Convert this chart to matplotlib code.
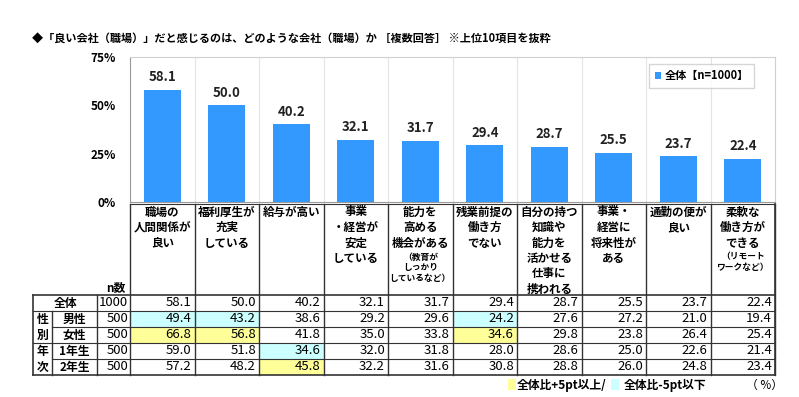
import numpy as np
import matplotlib
matplotlib.use("Agg")
import matplotlib.pyplot as plt
from matplotlib.patches import Rectangle

plt.rcParams['font.family'] = ['Noto Sans CJK JP', 'DejaVu Sans']

title = "◆「良い会社（職場）」だと感じるのは、どのような会社（職場）か ［複数回答］ ※上位10項目を抜粋"

labels = ["職場の\n人間関係が\n良い", "福利厚生が\n充実\nしている", "給与が高い",
          "事業\n・経営が\n安定\nしている", "能力を\n高める\n機会がある", "残業前提の\n働き方\nでない",
          "自分の持つ\n知識や\n能力を\n活かせる\n仕事に\n携われる", "事業・\n経営に\n将来性が\nある",
          "通勤の便が\n良い", "柔軟な\n働き方が\nできる"]
sub_labels = ["", "", "", "", "（教育が\nしっかり\nしているなど）", "", "", "", "", "（リモート\nワークなど）"]

overall = [58.1, 50.0, 40.2, 32.1, 31.7, 29.4, 28.7, 25.5, 23.7, 22.4]
male = [49.4, 43.2, 38.6, 29.2, 29.6, 24.2, 27.6, 27.2, 21.0, 19.4]
female = [66.8, 56.8, 41.8, 35.0, 33.8, 34.6, 29.8, 23.8, 26.4, 25.4]
year1 = [59.0, 51.8, 34.6, 32.0, 31.8, 28.0, 28.6, 25.0, 22.6, 21.4]
year2 = [57.2, 48.2, 45.8, 32.2, 31.6, 30.8, 28.8, 26.0, 24.8, 23.4]

row_names = ["全体", "男性", "女性", "1年生", "2年生"]
group_names = ["性\n別", "年\n次"]
n_counts = [1000, 500, 500, 500, 500]
rows = [overall, male, female, year1, year2]

bar_color = "#3399FF"
up_color = "#FFFF99"
down_color = "#CCFFFF"

W, H = 799, 397
fig = plt.figure(figsize=(W / 100, H / 100), dpi=100)

# layout in pixels
x0, x1 = 130, 775
y_top, y_zero = 57, 202
ax = fig.add_axes([x0 / W, 1 - y_zero / H, (x1 - x0) / W, (y_zero - y_top) / H])

x = np.arange(len(overall))
bars = ax.bar(x, overall, width=0.57, color=bar_color, label="全体【n=1000】", zorder=3)
for b, v in zip(bars, overall):
    ax.annotate(f"{v:.1f}", (b.get_x() + b.get_width() / 2, v), xytext=(0, 4),
                textcoords="offset points", ha="center", va="bottom",
                fontsize=9.5, fontweight="bold", color="#222222")
ax.set_xlim(-0.5, len(overall) - 0.5)
ax.set_ylim(0, 75)
ax.set_yticks([0, 25, 50, 75])
ax.set_yticklabels(["0%", "25%", "50%", "75%"], fontsize=8.5, fontweight="bold")
ax.tick_params(axis="y", length=0, pad=10)
ax.set_xticks([])
for xb in np.arange(0.5, len(overall) - 0.5, 1):
    ax.axvline(xb, color="#e4e4e4", lw=0.8, zorder=1)
for side in ["top", "right"]:
    ax.spines[side].set_color("#d0d0d0")
ax.spines["left"].set_color("#999999")
ax.spines["bottom"].set_color("#999999")

ax.legend(loc="upper right", bbox_to_anchor=(760 / W, 1 - 58 / H), bbox_transform=fig.transFigure,
          handlelength=0.6, handleheight=0.6, handletextpad=0.3,
          frameon=True, fancybox=False, edgecolor="#cccccc", borderpad=0.5,
          prop={"weight": "bold", "size": 8})

fig.text(32 / W, 1 - 38 / H, title, fontsize=8, fontweight="bold", va="center", ha="left")

# table overlay in pixel coordinates
t = fig.add_axes([0, 0, 1, 1])
t.set_xlim(0, W)
t.set_ylim(H, 0)
t.axis("off")

col_w = (x1 - x0) / len(overall)
edges = [x0 + i * col_w for i in range(len(overall) + 1)]
head_top, head_bot = 204, 295
row_edges = [295, 311, 327, 343, 359, 375]
tab_left, grp_right, name_right = 33, 52, 97
line_c = "#333333"
pitch = 15.5

# header labels
for i in range(len(labels)):
    cx = (edges[i] + edges[i + 1]) / 2
    for k, line in enumerate(labels[i].split("\n")):
        t.text(cx, 212 + k * pitch, line, ha="center", va="center", fontsize=8.3,
               fontweight="bold")
    if sub_labels[i]:
        nlines = labels[i].count("\n") + 1
        for k, line in enumerate(sub_labels[i].split("\n")):
            t.text(cx, 212 + (nlines - 1) * pitch + 14 + k * 10.5, line, ha="center",
                   va="center", fontsize=6.3, fontweight="bold")
t.text((name_right + x0) / 2 + 2, head_bot - 1, "n数", ha="center", va="bottom",
       fontsize=8.5, fontweight="bold")

# highlight cells
for r in range(1, len(rows)):
    for i in range(len(overall)):
        d = rows[r][i] - overall[i]
        c = up_color if d >= 5 else (down_color if d <= -5 else None)
        if c:
            t.add_patch(Rectangle((edges[i], row_edges[r]), col_w, row_edges[r + 1] - row_edges[r],
                                  facecolor=c, edgecolor="none"))

# values
for r, vals in enumerate(rows):
    cy = (row_edges[r] + row_edges[r + 1]) / 2
    for i, v in enumerate(vals):
        t.text(edges[i + 1] - 3, cy, f"{v:.1f}", ha="right", va="center", fontsize=9.5)
    t.text(x0 - 2, cy, str(n_counts[r]), ha="right", va="center", fontsize=9.5)
    if r == 0:
        t.text((tab_left + name_right) / 2, cy, row_names[r], ha="center", va="center",
               fontsize=8.5, fontweight="bold")
    else:
        t.text((grp_right + name_right) / 2, cy, row_names[r], ha="center", va="center",
               fontsize=8.5, fontweight="bold")
for g, name in enumerate(group_names):
    r = 1 + 2 * g
    for k, ch in enumerate(name.split("\n")):
        cy = (row_edges[r + k] + row_edges[r + k + 1]) / 2
        t.text((tab_left + grp_right) / 2, cy, ch, ha="center", va="center",
               fontsize=8.5, fontweight="bold")

# grid lines
t.plot([x0, x1], [head_top, head_top], color=line_c, lw=0.8)
for e in edges:
    t.plot([e, e], [head_top, row_edges[-1]], color=line_c, lw=1.0)
t.plot([name_right, name_right], [row_edges[0], row_edges[-1]], color=line_c, lw=1.0)
t.plot([grp_right, grp_right], [row_edges[1], row_edges[-1]], color=line_c, lw=1.0)
t.plot([tab_left, tab_left], [row_edges[0], row_edges[-1]], color=line_c, lw=1.2)
t.plot([x1, x1], [head_top, row_edges[-1]], color=line_c, lw=1.2)
for k, ye in enumerate(row_edges):
    start = grp_right if k in (2, 4) else tab_left
    t.plot([start, x1], [ye, ye], color=line_c, lw=1.2 if k in (0, 5) else 0.8)

# footnote
t.add_patch(Rectangle((508, 379), 8, 11, facecolor=up_color, edgecolor="none"))
t.text(517, 385, "全体比+5pt以上/", ha="left", va="center", fontsize=8.5, fontweight="bold")
t.add_patch(Rectangle((611, 379), 8, 11, facecolor=down_color, edgecolor="none"))
t.text(624, 385, "全体比-5pt以下", ha="left", va="center", fontsize=8.5, fontweight="bold")
t.text(765, 385, "（ %）", ha="center", va="center", fontsize=8.5)

fig.savefig("out.png", dpi=100)
